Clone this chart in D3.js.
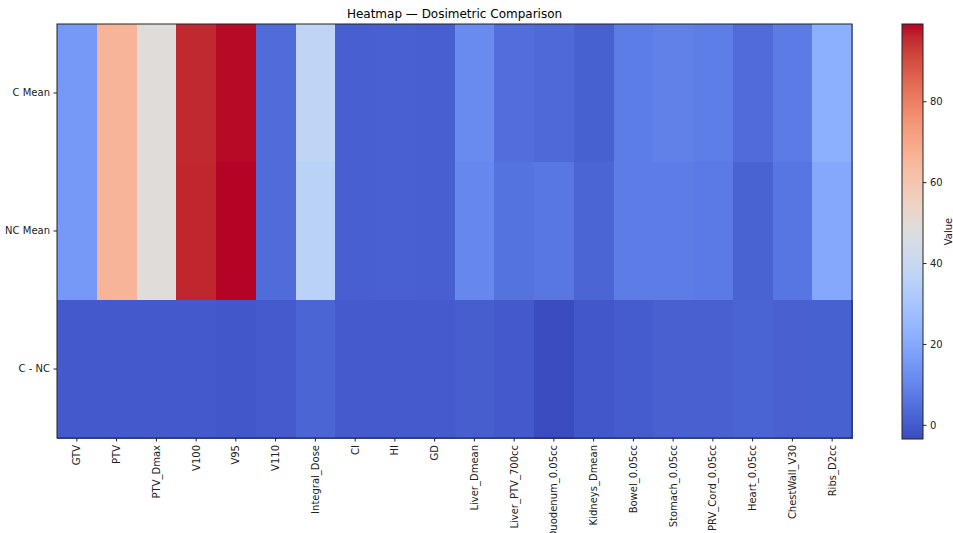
<!DOCTYPE html>
<html>
<head>
<meta charset="utf-8">
<script src="https://cdn.jsdelivr.net/npm/d3@7"></script>
<style>
  html, body { margin: 0; padding: 0; background: #ffffff; }
  svg { display: block; font-family: "DejaVu Sans", sans-serif; }
</style>
</head>
<body>
<svg id="chart" width="953" height="533"></svg>
<script>
// Dosimetric metrics (columns) and comparison rows
const metrics = ["GTV", "PTV", "PTV_Dmax", "V100", "V95", "V110", "Integral_Dose", "CI", "HI", "GD",
  "Liver_Dmean", "Liver_PTV_700cc", "Duodenum_0.05cc", "Kidneys_Dmean", "Bowel_0.05cc",
  "Stomach_0.05cc", "PRV_Cord_0.05cc", "Heart_0.05cc", "ChestWall_V30", "Ribs_D2cc"];
const rowLabels = ["C Mean", "NC Mean", "C - NC"];

const cMean  = [15.5, 66.0, 48.5, 95.8, 98.6, 4.0, 37.5, 0.9, 1.1, 0.8,
  11.5, 4.5, 3.2, 1.2, 8.0, 9.0, 8.3, 3.8, 7.5, 22.0];
const ncMean = [15.5, 66.0, 48.5, 96.1, 99.1, 3.8, 35.5, 0.9, 1.1, 0.8,
  10.6, 5.6, 6.7, 2.2, 7.8, 7.9, 7.4, 1.7, 6.4, 19.8];
const diff   = [-0.3, -0.3, -0.2, -0.4, -1.0, 0.0, 2.3, 0.0, 0.0, 0.0,
  0.7, -0.3, -3.5, -1.0, 0.2, 1.0, 1.0, 2.1, 1.0, 1.2];

const colorbarTicks = [0, 20, 40, 60, 80];

// coolwarm colour stops (Moreland diverging map)
const coolwarm = ["#3b4cc0", "#445acc", "#4d68d7", "#5775e1", "#6282ea", "#6c8ef1", "#779af7", "#82a5fb",
  "#8db0fe", "#98b9ff", "#a3c2ff", "#aec9fd", "#b8d0f9", "#c2d5f4", "#ccd9ee", "#d5dbe6",
  "#dddddd", "#e5d8d1", "#ecd3c5", "#f1ccb9", "#f5c4ad", "#f7bba0", "#f7b194", "#f7a687",
  "#f49a7b", "#f18d6f", "#ec7f63", "#e57058", "#de604d", "#d55042", "#cb3e38", "#c0282f", "#b40426"];

const FONT = "DejaVu Sans, sans-serif";
const TICK_FS = 10;

const rows = [cMean, ncMean, diff];
const cells = [];
rows.forEach((vals, r) => vals.forEach((v, c) => cells.push({ row: rowLabels[r], col: metrics[c], value: v })));

const allVals = cells.map(d => d.value);
const vmin = d3.min(allVals), vmax = d3.max(allVals);

const color = d3.scaleSequential(d3.piecewise(d3.interpolateRgb, coolwarm)).domain([vmin, vmax]);

const svg = d3.select("#chart");
const plot = { left: 57, right: 852, top: 24, bottom: 438 };

const x = d3.scaleBand().domain(metrics).range([plot.left, plot.right]).padding(0);
const y = d3.scaleBand().domain(rowLabels).range([plot.top, plot.bottom]).padding(0);

// heatmap cells
svg.append("g").selectAll("rect").data(cells).join("rect")
  .attr("x", d => x(d.col))
  .attr("y", d => y(d.row))
  .attr("width", x.bandwidth() + 0.5)
  .attr("height", y.bandwidth() + 0.5)
  .attr("fill", d => color(d.value))
  .attr("shape-rendering", "crispEdges");

// frame
svg.append("rect")
  .attr("x", plot.left).attr("y", plot.top)
  .attr("width", plot.right - plot.left).attr("height", plot.bottom - plot.top)
  .attr("fill", "none").attr("stroke", "#222").attr("stroke-width", 1);

// x axis
const xAxis = svg.append("g")
  .attr("transform", `translate(0,${plot.bottom})`)
  .call(d3.axisBottom(x).tickSizeOuter(0).tickSize(3.5).tickPadding(3.5));
xAxis.attr("font-family", FONT);
xAxis.select(".domain").remove();
xAxis.selectAll("line").attr("stroke", "#222");
xAxis.selectAll("text")
  .attr("font-size", TICK_FS).attr("fill", "#222")
  .attr("transform", "rotate(-90)")
  .attr("text-anchor", "end")
  .attr("x", -7).attr("y", 0).attr("dy", "0.35em");

// y axis
const yAxis = svg.append("g")
  .attr("transform", `translate(${plot.left},0)`)
  .call(d3.axisLeft(y).tickSizeOuter(0).tickSize(3.5).tickPadding(3.5));
yAxis.attr("font-family", FONT);
yAxis.select(".domain").remove();
yAxis.selectAll("line").attr("stroke", "#222");
yAxis.selectAll("text").attr("font-size", TICK_FS).attr("fill", "#222");

// title
svg.append("text")
  .attr("x", (plot.left + plot.right) / 2).attr("y", 18)
  .attr("text-anchor", "middle")
  .attr("font-family", FONT)
  .attr("font-size", 12).attr("fill", "#000")
  .text("Heatmap — Dosimetric Comparison");

// colorbar
const cb = { left: 902, width: 21, top: 24, bottom: 439 };
const defs = svg.append("defs");
const grad = defs.append("linearGradient").attr("id", "cbgrad")
  .attr("x1", 0).attr("y1", 1).attr("x2", 0).attr("y2", 0);
coolwarm.forEach((c, i) => {
  grad.append("stop").attr("offset", i / (coolwarm.length - 1)).attr("stop-color", c);
});
svg.append("rect")
  .attr("x", cb.left).attr("y", cb.top)
  .attr("width", cb.width).attr("height", cb.bottom - cb.top)
  .attr("fill", "url(#cbgrad)")
  .attr("stroke", "#222").attr("stroke-width", 1);

const cbScale = d3.scaleLinear().domain([vmin, vmax]).range([cb.bottom, cb.top]);
const cbAxis = svg.append("g")
  .attr("transform", `translate(${cb.left + cb.width},0)`)
  .call(d3.axisRight(cbScale).tickValues(colorbarTicks).tickSize(3.5).tickPadding(3.5).tickFormat(d3.format("d")));
cbAxis.attr("font-family", FONT);
cbAxis.select(".domain").remove();
cbAxis.selectAll("line").attr("stroke", "#222");
cbAxis.selectAll("text").attr("font-size", TICK_FS).attr("fill", "#222");

svg.append("text")
  .attr("transform", `translate(952,${(cb.top + cb.bottom) / 2}) rotate(-90)`)
  .attr("text-anchor", "middle")
  .attr("font-family", FONT)
  .attr("font-size", TICK_FS).attr("fill", "#222")
  .text("Value");
</script>
</body>
</html>
